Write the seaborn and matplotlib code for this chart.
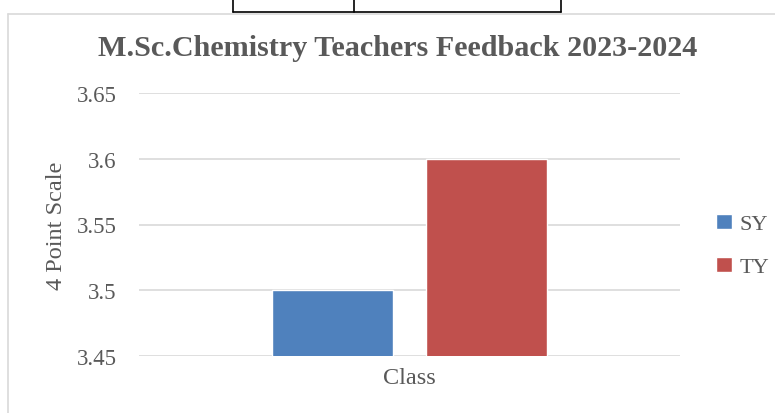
import pandas as pd
import seaborn as sns
import matplotlib.pyplot as plt
from matplotlib.lines import Line2D

# chart data
classes = ['SY', 'TY']
scores = [3.5, 3.6]
category = ['Class', 'Class']
yticks = [3.45, 3.5, 3.55, 3.6, 3.65]
ytick_labels = ['3.45', '3.5', '3.55', '3.6', '3.65']

df = pd.DataFrame({'Category': category, 'Year': classes, 'Score': scores})

sns.set_theme(style='white')
plt.rcParams['font.family'] = ['Liberation Serif', 'DejaVu Serif']
text_col = '#595959'

W, H = 775, 414
fig = plt.figure(figsize=(W / 100, H / 100), dpi=100)
ax = fig.add_axes([139 / W, 1 - 357 / H, 541 / W, 263 / H])

sns.barplot(data=df, x='Category', y='Score', hue='Year',
            palette=['#4F81BD', '#C0504D'], width=0.569, gap=0.214,
            saturation=1, ax=ax, zorder=3)

ax.set_ylim(3.45, 3.65)
ax.set_yticks(yticks)
ax.set_yticklabels(ytick_labels)
ax.yaxis.grid(True, color='#D9D9D9', linewidth=1.2, zorder=0)
for s in ax.spines.values():
    s.set_visible(False)
ax.tick_params(axis='both', length=0, colors=text_col)
ax.tick_params(axis='y', pad=16, labelsize=16.5)
ax.tick_params(axis='x', pad=8, labelsize=17.5)
ax.set_xlabel('')
ax.set_ylabel('4 Point Scale', fontsize=17.5, color=text_col, labelpad=7)

# title centred on the whole chart area
fig.text(398 / W, 1 - 48 / H, 'M.Sc.Chemistry Teachers Feedback 2023-2024',
         fontsize=21.7, fontweight='bold', color=text_col,
         ha='center', va='center')

leg = ax.legend(loc='center left', bbox_to_anchor=(1.03, 0.42), frameon=False,
                fontsize=16, handlelength=0.7, handleheight=0.7,
                handletextpad=0.35, labelspacing=1.0)
for t in leg.get_texts():
    t.set_color(text_col)

# chart area border (left and top) and table fragment above
fig.add_artist(Line2D([8 / W, 8 / W], [0, 1 - 15 / H], color='#D9D9D9', lw=1.2))
fig.add_artist(Line2D([8 / W, 1], [1 - 15 / H, 1 - 15 / H], color='#D9D9D9', lw=1.2))
for x in [233, 354, 561]:
    fig.add_artist(Line2D([x / W, x / W], [1 - 13 / H, 1], color='black', lw=1.2))
fig.add_artist(Line2D([233 / W, 561 / W], [1 - 13 / H, 1 - 13 / H], color='black', lw=1.2))

fig.savefig('out.png', dpi=100)
